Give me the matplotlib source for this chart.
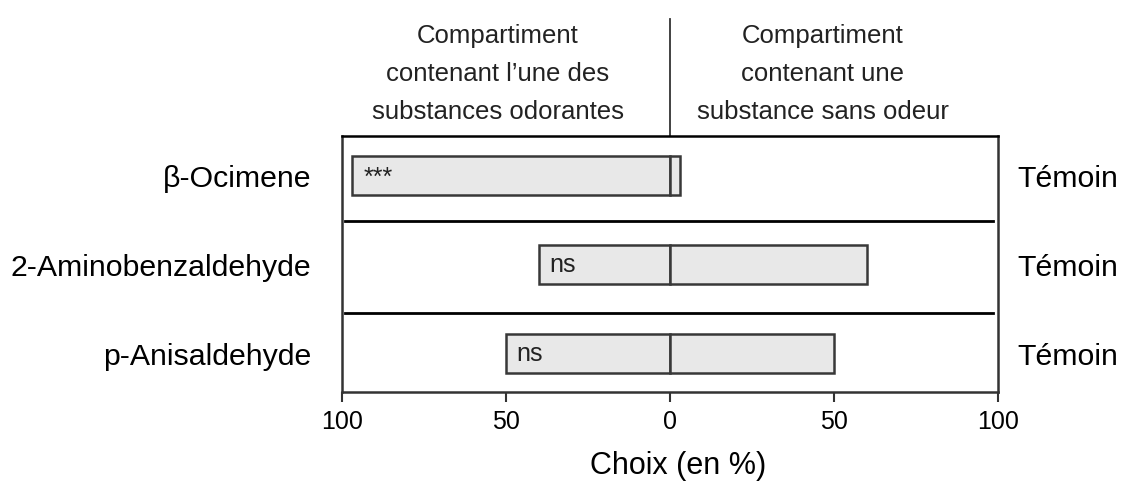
import numpy as np
import matplotlib.pyplot as plt
from matplotlib.transforms import blended_transform_factory

plt.rcParams['font.family'] = ['Liberation Sans', 'DejaVu Sans']

# Data
substances = ['β-Ocimene', '2-Aminobenzaldehyde', 'p-Anisaldehyde']
odorant_pct = [97, 40, 50]   # choix pour le compartiment odorant
control_pct = [3, 60, 50]    # choix pour le témoin (sans odeur)
signif = ['***', 'ns', 'ns']
control_label = 'Témoin'

header_left = "Compartiment\ncontenant l\u2019une des\nsubstances odorantes"
header_right = "Compartiment\ncontenant une\nsubstance sans odeur"

fig = plt.figure(figsize=(11.23, 4.88), dpi=100)
ax = fig.add_axes([0.3043, 0.1957, 0.5844, 0.5256])

y = np.arange(len(substances))
bar_h = 0.44
fill = '#e8e8e8'
edge = '#383838'

ax.barh(y, [-v for v in odorant_pct], height=bar_h, color=fill, edgecolor=edge, linewidth=1.8)
ax.barh(y, control_pct, height=bar_h, color=fill, edgecolor=edge, linewidth=1.8)

for yi, v, s in zip(y, odorant_pct, signif):
    if s == '***':
        # asterisks sit high in the font, so place by baseline
        ax.text(-v + 3.7, yi + 0.11, s, ha='left', va='baseline', fontsize=18, color='#222222')
    else:
        ax.text(-v + 3.3, yi, s, ha='left', va='center', fontsize=18, color='#222222')

# separators between rows
for ys in [0.51, 1.54]:
    ax.axhline(ys, xmin=0.005, xmax=0.993, color='black', linewidth=2)

ax.set_xlim(-100, 100)
ax.set_ylim(2.438, -0.444)
ticks = [-100, -50, 0, 50, 100]
ax.set_xticks(ticks)
ax.set_xticklabels([str(abs(t)) for t in ticks], fontsize=18)
ax.tick_params(axis='x', direction='out', length=7.5, width=1.5, color='#333333', pad=5)
ax.set_yticks(y)
ax.set_yticklabels(substances, fontsize=21.8)
ax.tick_params(axis='y', length=0, pad=22)

for side in ['left', 'right', 'top', 'bottom']:
    ax.spines[side].set_linewidth(1.8)
    ax.spines[side].set_color('#333333')
ax.spines['top'].set_color('black')

ax2 = ax.twinx()
ax2.set_ylim(ax.get_ylim())
ax2.set_yticks(y)
ax2.set_yticklabels([control_label] * len(y), fontsize=21.8)
ax2.tick_params(axis='y', length=0, pad=14)
for side in ['left', 'right', 'top', 'bottom']:
    ax2.spines[side].set_visible(False)

ax.set_xlabel('Choix (en %)', fontsize=22, labelpad=12)
ax.xaxis.set_label_coords(0.512, -0.23)

# headers and divider line above the axes
trans = blended_transform_factory(ax.transData, ax.transAxes)
ax.plot([0, 0], [1, 1.455], transform=trans, color='#333333', linewidth=1.3, clip_on=False)
ax.text(-52.5, 1.243, header_left, transform=trans, ha='center', va='center',
        fontsize=18.5, linespacing=1.74, color='#222222')
ax.text(46.5, 1.243, header_right, transform=trans, ha='center', va='center',
        fontsize=18.5, linespacing=1.74, color='#222222')

fig.savefig('out.png', dpi=100)
